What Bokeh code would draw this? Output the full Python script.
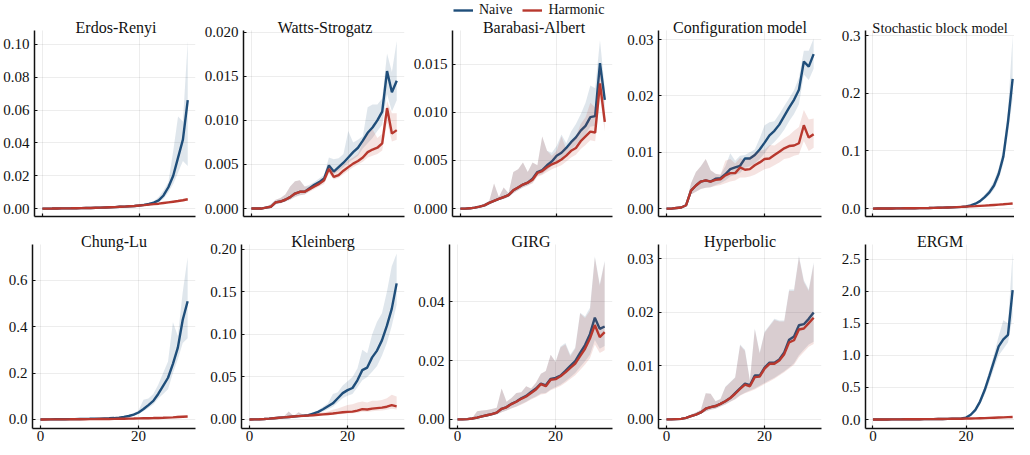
from bokeh.plotting import figure
from bokeh.layouts import row, column
from bokeh.models import (FixedTicker, PrintfTickFormatter, Range1d, Legend, LegendItem,
                          Label, CustomLabelingPolicy)
from bokeh.embed import file_html
from bokeh.resources import INLINE

steps = list(range(31))
legend_labels = ["Naive", "Harmonic"]
x_ticks = [0, 20]

# ---------------- Erdos-Renyi ----------------
er_naive = [0.0, 0.00002, 0.00005, 0.0001, 0.00013, 0.00017, 0.0002, 0.00025, 0.0003, 0.00035, 0.0004, 0.0005, 0.0006, 0.0007, 0.0008, 0.0009, 0.0011, 0.0012, 0.0014, 0.0016, 0.0019, 0.0023, 0.0028, 0.0036, 0.005, 0.008, 0.013, 0.020, 0.031, 0.042, 0.066]
er_naive_lo = [0.0, 0.00001, 0.00004, 0.00008, 0.0001, 0.00014, 0.00017, 0.0002, 0.00025, 0.0003, 0.00034, 0.00042, 0.0005, 0.0006, 0.0007, 0.0008, 0.0009, 0.001, 0.0012, 0.0014, 0.0016, 0.0019, 0.0023, 0.003, 0.004, 0.006, 0.010, 0.015, 0.022, 0.029, 0.026]
er_naive_hi = [0.0, 0.00003, 0.00007, 0.00012, 0.00016, 0.0002, 0.00024, 0.0003, 0.00036, 0.00042, 0.0005, 0.0006, 0.0007, 0.0008, 0.001, 0.0013, 0.0022, 0.0016, 0.0017, 0.0019, 0.0026, 0.0034, 0.0035, 0.0045, 0.007, 0.011, 0.016, 0.035, 0.056, 0.053, 0.102]
er_harm = [0.0, 0.00002, 0.00005, 0.0001, 0.00013, 0.00017, 0.0002, 0.00025, 0.0003, 0.00035, 0.0004, 0.0005, 0.0006, 0.0007, 0.0008, 0.0009, 0.0011, 0.0012, 0.0014, 0.0016, 0.0019, 0.0021, 0.0024, 0.0027, 0.003, 0.0034, 0.0038, 0.0042, 0.0046, 0.0051, 0.0057]
er_harm_lo = [0.0, 0.00001, 0.00004, 0.00008, 0.00011, 0.00014, 0.00017, 0.0002, 0.00025, 0.0003, 0.00034, 0.00042, 0.0005, 0.0006, 0.0007, 0.0008, 0.0009, 0.001, 0.0012, 0.0014, 0.0016, 0.0018, 0.002, 0.0023, 0.0026, 0.0029, 0.0033, 0.0036, 0.004, 0.0044, 0.0049]
er_harm_hi = [0.0, 0.00003, 0.00006, 0.00012, 0.00015, 0.0002, 0.00023, 0.0003, 0.00035, 0.0004, 0.00046, 0.00058, 0.0007, 0.0008, 0.0009, 0.0011, 0.0018, 0.0014, 0.0016, 0.0018, 0.0023, 0.0026, 0.0028, 0.0031, 0.0035, 0.0039, 0.0043, 0.0048, 0.0052, 0.0058, 0.0065]

# ---------------- Watts-Strogatz ----------------
ws_naive = [0.0, 0.0, 0.0, 0.0001, 0.0002, 0.0007, 0.0008, 0.001, 0.0013, 0.0017, 0.0019, 0.0019, 0.0023, 0.0027, 0.003, 0.0034, 0.0049, 0.0042, 0.0047, 0.0052, 0.0058, 0.0064, 0.0069, 0.0077, 0.0086, 0.0092, 0.0100, 0.0110, 0.0156, 0.0132, 0.0145]
ws_naive_lo = [0.0, 0.0, 0.0, 0.00005, 0.0001, 0.0005, 0.0006, 0.0008, 0.001, 0.0013, 0.0015, 0.0016, 0.002, 0.0024, 0.0027, 0.003, 0.0042, 0.0039, 0.0043, 0.0047, 0.0052, 0.0056, 0.006, 0.0068, 0.0074, 0.008, 0.0088, 0.0095, 0.013, 0.011, 0.0123]
ws_naive_hi = [0.0, 0.0, 0.0, 0.0002, 0.0005, 0.001, 0.0012, 0.0016, 0.0025, 0.0031, 0.0032, 0.0025, 0.0027, 0.003, 0.0034, 0.0038, 0.0058, 0.0056, 0.0057, 0.0062, 0.0088, 0.0075, 0.0078, 0.0082, 0.0115, 0.0118, 0.0118, 0.0125, 0.0176, 0.0155, 0.019]
ws_harm = [0.0, 0.0, 0.0, 0.0001, 0.0002, 0.0007, 0.0008, 0.001, 0.0013, 0.0017, 0.0019, 0.0019, 0.0022, 0.0025, 0.0028, 0.0032, 0.0045, 0.0036, 0.0038, 0.0043, 0.0047, 0.0051, 0.0054, 0.0058, 0.0064, 0.0067, 0.0069, 0.0074, 0.0114, 0.0085, 0.0089]
ws_harm_lo = [0.0, 0.0, 0.0, 0.00005, 0.0001, 0.0005, 0.0006, 0.0008, 0.001, 0.0013, 0.0015, 0.0016, 0.0019, 0.0022, 0.0025, 0.0028, 0.004, 0.0033, 0.0035, 0.0039, 0.0043, 0.0047, 0.005, 0.0053, 0.0058, 0.006, 0.0062, 0.0066, 0.0098, 0.0076, 0.0078]
ws_harm_hi = [0.0, 0.0, 0.0, 0.0002, 0.0005, 0.001, 0.0012, 0.0016, 0.0025, 0.0031, 0.0032, 0.0025, 0.0025, 0.0028, 0.0031, 0.0036, 0.005, 0.0042, 0.0045, 0.005, 0.0055, 0.0058, 0.0062, 0.0075, 0.0085, 0.009, 0.008, 0.0085, 0.0122, 0.0108, 0.0108]

# ---------------- Barabasi-Albert ----------------
ba_naive = [0.0, 0.0, 0.00003, 0.0001, 0.0002, 0.00034, 0.0006, 0.0008, 0.001, 0.0012, 0.0014, 0.0019, 0.0022, 0.0025, 0.0027, 0.0031, 0.0038, 0.004, 0.0045, 0.0049, 0.0055, 0.0058, 0.0063, 0.0069, 0.0074, 0.0081, 0.0086, 0.0095, 0.0096, 0.0151, 0.0113]
ba_naive_lo = [0.0, 0.0, 0.00002, 0.00008, 0.00016, 0.0003, 0.0005, 0.0007, 0.0009, 0.001, 0.0012, 0.0016, 0.0019, 0.0022, 0.0024, 0.0027, 0.0034, 0.0036, 0.004, 0.0044, 0.005, 0.0052, 0.0057, 0.0062, 0.0066, 0.0072, 0.0077, 0.0085, 0.0086, 0.0135, 0.0102]
ba_naive_hi = [0.0, 0.0, 0.00005, 0.00013, 0.0003, 0.0005, 0.0008, 0.0026, 0.0012, 0.0022, 0.0016, 0.0038, 0.0041, 0.0048, 0.0038, 0.0048, 0.0045, 0.0075, 0.006, 0.0058, 0.0065, 0.0077, 0.0068, 0.008, 0.0088, 0.0098, 0.011, 0.0128, 0.0125, 0.0175, 0.0125]
ba_harm = [0.0, 0.0, 0.00003, 0.0001, 0.0002, 0.00034, 0.0006, 0.0008, 0.001, 0.0012, 0.0014, 0.0019, 0.0022, 0.0025, 0.0027, 0.003, 0.0037, 0.0039, 0.0043, 0.0046, 0.0048, 0.0051, 0.0055, 0.006, 0.0063, 0.007, 0.0075, 0.008, 0.0079, 0.013, 0.009]
ba_harm_lo = [0.0, 0.0, 0.00002, 0.00008, 0.00016, 0.0003, 0.0005, 0.0007, 0.0009, 0.001, 0.0012, 0.0016, 0.0019, 0.0022, 0.0024, 0.0026, 0.0033, 0.0035, 0.0038, 0.0041, 0.0043, 0.0045, 0.0049, 0.0053, 0.0056, 0.0062, 0.0066, 0.0071, 0.007, 0.0115, 0.008]
ba_harm_hi = [0.0, 0.0, 0.00005, 0.00013, 0.0003, 0.0005, 0.0008, 0.0026, 0.0012, 0.0022, 0.0016, 0.0038, 0.0041, 0.0048, 0.0038, 0.0048, 0.0045, 0.0075, 0.006, 0.0055, 0.006, 0.0075, 0.0062, 0.007, 0.0075, 0.0088, 0.0095, 0.011, 0.0105, 0.0148, 0.01]

# ---------------- Configuration model ----------------
cm_naive = [0.0, 0.0, 0.0001, 0.0002, 0.0006, 0.0032, 0.0041, 0.0048, 0.005, 0.0048, 0.0053, 0.0054, 0.0061, 0.007, 0.0073, 0.0076, 0.0089, 0.0089, 0.0095, 0.0105, 0.0117, 0.013, 0.0138, 0.0149, 0.0164, 0.0179, 0.0193, 0.0211, 0.0261, 0.0252, 0.0274]
cm_naive_lo = [0.0, 0.0, 0.00005, 0.0001, 0.0004, 0.0025, 0.003, 0.0035, 0.0037, 0.0038, 0.0042, 0.0045, 0.005, 0.0057, 0.006, 0.0063, 0.0073, 0.0075, 0.008, 0.0088, 0.0098, 0.011, 0.0118, 0.0128, 0.014, 0.0155, 0.0168, 0.0185, 0.0238, 0.0228, 0.0248]
cm_naive_hi = [0.0, 0.0, 0.00015, 0.0003, 0.0008, 0.0045, 0.0065, 0.0075, 0.0088, 0.0068, 0.0062, 0.006, 0.0075, 0.0098, 0.0085, 0.0094, 0.0095, 0.01, 0.0105, 0.0125, 0.0148, 0.0153, 0.0155, 0.0168, 0.0182, 0.0196, 0.021, 0.0232, 0.028, 0.028, 0.0302]
cm_harm = [0.0, 0.0, 0.0001, 0.0002, 0.0006, 0.0032, 0.0041, 0.0048, 0.005, 0.0048, 0.0051, 0.0052, 0.0059, 0.0063, 0.0063, 0.0073, 0.0069, 0.007, 0.0077, 0.0082, 0.0088, 0.0089, 0.0095, 0.0101, 0.0107, 0.0111, 0.0112, 0.0116, 0.0148, 0.0126, 0.0132]
cm_harm_lo = [0.0, 0.0, 0.00005, 0.0001, 0.0004, 0.0025, 0.003, 0.0035, 0.0037, 0.0038, 0.004, 0.0042, 0.0045, 0.0048, 0.005, 0.0055, 0.0055, 0.0057, 0.006, 0.0065, 0.007, 0.0072, 0.0077, 0.0082, 0.0088, 0.009, 0.0094, 0.0096, 0.012, 0.0102, 0.0108]
cm_harm_hi = [0.0, 0.0, 0.00015, 0.0003, 0.0008, 0.0045, 0.0065, 0.0075, 0.0088, 0.0068, 0.0062, 0.006, 0.0085, 0.0088, 0.008, 0.009, 0.0085, 0.0092, 0.0098, 0.0102, 0.0105, 0.0113, 0.0112, 0.0118, 0.0125, 0.013, 0.0138, 0.0145, 0.0175, 0.0158, 0.016]

# ---------------- Stochastic block model ----------------
sbm_naive = [0.0, 0.00005, 0.0001, 0.00015, 0.0002, 0.0003, 0.0004, 0.0005, 0.0006, 0.0007, 0.0008, 0.0009, 0.001, 0.0012, 0.0014, 0.0016, 0.0019, 0.0022, 0.0026, 0.003, 0.0037, 0.0055, 0.0085, 0.013, 0.02, 0.028, 0.04, 0.06, 0.09, 0.15, 0.225]
sbm_naive_lo = [0.0, 0.00003, 0.00007, 0.0001, 0.00015, 0.0002, 0.0003, 0.0004, 0.0005, 0.0006, 0.0007, 0.0008, 0.0009, 0.001, 0.0012, 0.0014, 0.0016, 0.0019, 0.0022, 0.0026, 0.0032, 0.0045, 0.007, 0.0105, 0.016, 0.023, 0.033, 0.05, 0.078, 0.13, 0.19]
sbm_naive_hi = [0.0, 0.00007, 0.00013, 0.0002, 0.00025, 0.0004, 0.0005, 0.0006, 0.0007, 0.0008, 0.0009, 0.001, 0.0012, 0.0014, 0.0016, 0.0018, 0.0022, 0.0025, 0.003, 0.0035, 0.0043, 0.0065, 0.01, 0.016, 0.024, 0.034, 0.048, 0.07, 0.105, 0.17, 0.30]
sbm_harm = [0.0, 0.00005, 0.0001, 0.00015, 0.0002, 0.0003, 0.0004, 0.0005, 0.0006, 0.0007, 0.0008, 0.0009, 0.001, 0.0012, 0.0014, 0.0016, 0.0019, 0.0022, 0.0026, 0.003, 0.0034, 0.0038, 0.0042, 0.0047, 0.0052, 0.0057, 0.0063, 0.0069, 0.0075, 0.0082, 0.0089]
sbm_harm_lo = [0.0, 0.00004, 0.00009, 0.00013, 0.00018, 0.00027, 0.00036, 0.00045, 0.00054, 0.00063, 0.00072, 0.0008, 0.0009, 0.0011, 0.0013, 0.0014, 0.0017, 0.002, 0.0023, 0.0027, 0.003, 0.0034, 0.0038, 0.0042, 0.0047, 0.0051, 0.0057, 0.0062, 0.0068, 0.0074, 0.008]
sbm_harm_hi = [0.0, 0.00006, 0.00011, 0.00017, 0.00022, 0.00033, 0.00044, 0.00055, 0.00066, 0.00077, 0.00088, 0.001, 0.0011, 0.0013, 0.0015, 0.0018, 0.0021, 0.0024, 0.0029, 0.0033, 0.0037, 0.0042, 0.0046, 0.0052, 0.0057, 0.0063, 0.0069, 0.0076, 0.0083, 0.009, 0.0098]

# ---------------- Chung-Lu ----------------
cl_naive = [0.0, 0.0002, 0.0004, 0.0006, 0.0008, 0.001, 0.0013, 0.0016, 0.002, 0.0024, 0.0028, 0.0033, 0.0038, 0.0044, 0.005, 0.006, 0.008, 0.011, 0.015, 0.021, 0.03, 0.045, 0.062, 0.08, 0.11, 0.145, 0.18, 0.24, 0.31, 0.43, 0.51]
cl_naive_lo = [0.0, 0.0001, 0.0003, 0.0005, 0.0006, 0.0008, 0.001, 0.0013, 0.0016, 0.002, 0.0023, 0.0027, 0.0031, 0.0036, 0.0041, 0.005, 0.0065, 0.009, 0.012, 0.017, 0.025, 0.035, 0.05, 0.065, 0.09, 0.11, 0.13, 0.2, 0.26, 0.33, 0.35]
cl_naive_hi = [0.0, 0.0003, 0.0005, 0.0007, 0.001, 0.0012, 0.0016, 0.002, 0.0024, 0.0029, 0.0034, 0.004, 0.0046, 0.0053, 0.006, 0.0072, 0.0098, 0.0135, 0.019, 0.027, 0.04, 0.085, 0.09, 0.11, 0.15, 0.2, 0.25, 0.42, 0.36, 0.55, 0.70]
cl_harm = [0.0, 0.0001, 0.0002, 0.0003, 0.0004, 0.0005, 0.0006, 0.0008, 0.001, 0.0012, 0.0014, 0.0016, 0.0018, 0.002, 0.0023, 0.0026, 0.0029, 0.0032, 0.0036, 0.004, 0.0045, 0.005, 0.0055, 0.006, 0.0066, 0.0072, 0.008, 0.0088, 0.0105, 0.0118, 0.013]
cl_harm_lo = [0.0, 0.00008, 0.00017, 0.00025, 0.00034, 0.0004, 0.0005, 0.0007, 0.0008, 0.001, 0.0012, 0.0014, 0.0015, 0.0017, 0.002, 0.0022, 0.0025, 0.0027, 0.003, 0.0034, 0.0038, 0.0042, 0.0047, 0.0051, 0.0056, 0.0061, 0.0068, 0.0075, 0.0089, 0.01, 0.011]
cl_harm_hi = [0.0, 0.00012, 0.00023, 0.00035, 0.00046, 0.0006, 0.0007, 0.0009, 0.0012, 0.0014, 0.0016, 0.0018, 0.0021, 0.0023, 0.0026, 0.003, 0.0033, 0.0037, 0.0041, 0.0046, 0.0052, 0.0058, 0.0063, 0.0069, 0.0076, 0.0083, 0.0092, 0.0101, 0.017, 0.017, 0.016]

# ---------------- Kleinberg ----------------
kl_naive = [0.0, 0.0001, 0.0003, 0.0006, 0.001, 0.0015, 0.002, 0.0025, 0.003, 0.0035, 0.004, 0.0045, 0.005, 0.007, 0.009, 0.012, 0.0155, 0.019, 0.025, 0.031, 0.0345, 0.037, 0.046, 0.058, 0.061, 0.073, 0.081, 0.093, 0.11, 0.13, 0.16]
kl_naive_lo = [0.0, 0.00008, 0.0002, 0.0005, 0.0008, 0.0012, 0.0016, 0.002, 0.0024, 0.0028, 0.0032, 0.0036, 0.004, 0.0055, 0.0072, 0.0095, 0.012, 0.015, 0.02, 0.025, 0.028, 0.03, 0.038, 0.046, 0.05, 0.056, 0.063, 0.075, 0.09, 0.11, 0.135]
kl_naive_hi = [0.0, 0.00015, 0.0004, 0.0008, 0.0013, 0.002, 0.0028, 0.0035, 0.0095, 0.004, 0.0085, 0.0055, 0.0065, 0.0085, 0.011, 0.015, 0.019, 0.03, 0.032, 0.04, 0.045, 0.05, 0.06, 0.082, 0.078, 0.1, 0.115, 0.125, 0.15, 0.18, 0.195]
kl_harm = [0.0, 0.0001, 0.0003, 0.0006, 0.001, 0.0015, 0.002, 0.0025, 0.003, 0.0035, 0.004, 0.0043, 0.0046, 0.005, 0.0055, 0.006, 0.0065, 0.007, 0.0078, 0.0085, 0.009, 0.0092, 0.0105, 0.0122, 0.0118, 0.0128, 0.0134, 0.014, 0.015, 0.0168, 0.0155]
kl_harm_lo = [0.0, 0.00008, 0.0002, 0.0005, 0.0008, 0.0012, 0.0016, 0.002, 0.0024, 0.0028, 0.0032, 0.0034, 0.0037, 0.004, 0.0044, 0.0048, 0.0052, 0.0055, 0.006, 0.0065, 0.007, 0.0072, 0.008, 0.009, 0.009, 0.0097, 0.0102, 0.0107, 0.0113, 0.0125, 0.0118]
kl_harm_hi = [0.0, 0.00015, 0.0004, 0.0008, 0.0013, 0.002, 0.0028, 0.0035, 0.0095, 0.004, 0.0085, 0.0055, 0.006, 0.0068, 0.0075, 0.0085, 0.0095, 0.0115, 0.013, 0.015, 0.017, 0.018, 0.02, 0.021, 0.02, 0.022, 0.022, 0.023, 0.025, 0.029, 0.027]

# ---------------- GIRG ----------------
gi_naive = [0.0, 0.0, 0.0001, 0.0003, 0.0006, 0.001, 0.0014, 0.0018, 0.0023, 0.0036, 0.0042, 0.0053, 0.0061, 0.0072, 0.008, 0.0093, 0.0105, 0.0122, 0.0116, 0.0138, 0.0141, 0.0149, 0.0165, 0.0182, 0.0198, 0.0226, 0.0253, 0.029, 0.0346, 0.0308, 0.0316]
gi_naive_lo = [0.0, 0.0, 0.00005, 0.0002, 0.0004, 0.0007, 0.001, 0.0013, 0.0017, 0.0024, 0.003, 0.0038, 0.0044, 0.0052, 0.006, 0.007, 0.0078, 0.0088, 0.009, 0.0102, 0.011, 0.0118, 0.013, 0.0143, 0.0158, 0.0178, 0.0198, 0.022, 0.027, 0.024, 0.025]
gi_naive_hi = [0.0, 0.0, 0.0002, 0.0005, 0.0028, 0.003, 0.0032, 0.0035, 0.004, 0.0105, 0.006, 0.0073, 0.009, 0.0092, 0.0113, 0.0105, 0.0125, 0.0155, 0.0165, 0.022, 0.0195, 0.0248, 0.026, 0.022, 0.0245, 0.0363, 0.035, 0.038, 0.0555, 0.046, 0.054]
gi_harm = [0.0, 0.0, 0.0001, 0.0003, 0.0006, 0.001, 0.0014, 0.0018, 0.0023, 0.0036, 0.0041, 0.0052, 0.006, 0.007, 0.0078, 0.009, 0.0102, 0.012, 0.0113, 0.0135, 0.0137, 0.0147, 0.016, 0.0175, 0.019, 0.0215, 0.024, 0.0275, 0.0321, 0.028, 0.0297]
gi_harm_lo = [0.0, 0.0, 0.00005, 0.0002, 0.0004, 0.0007, 0.001, 0.0013, 0.0017, 0.0024, 0.003, 0.0037, 0.0043, 0.005, 0.0058, 0.0068, 0.0075, 0.0085, 0.0087, 0.0099, 0.0106, 0.0114, 0.0125, 0.0137, 0.015, 0.0168, 0.0187, 0.0208, 0.0255, 0.0226, 0.0235]
gi_harm_hi = [0.0, 0.0, 0.0002, 0.0005, 0.0028, 0.003, 0.0032, 0.0035, 0.004, 0.0105, 0.006, 0.0073, 0.009, 0.0092, 0.0113, 0.0105, 0.0125, 0.0155, 0.0165, 0.022, 0.0195, 0.0245, 0.0255, 0.0215, 0.024, 0.036, 0.0345, 0.037, 0.055, 0.0455, 0.0535]

# ---------------- Hyperbolic ----------------
hy_naive = [0.0, 0.0, 0.00005, 0.0001, 0.0003, 0.0006, 0.0009, 0.0013, 0.002, 0.0023, 0.0025, 0.0029, 0.0034, 0.004, 0.0049, 0.0058, 0.0067, 0.0064, 0.0082, 0.0082, 0.0097, 0.0106, 0.0106, 0.0112, 0.0125, 0.0149, 0.0155, 0.0176, 0.0178, 0.0188, 0.02]
hy_naive_lo = [0.0, 0.0, 0.00003, 0.00008, 0.0002, 0.0005, 0.0008, 0.0011, 0.0015, 0.0018, 0.002, 0.0024, 0.0028, 0.0033, 0.0038, 0.0045, 0.005, 0.0054, 0.0058, 0.0063, 0.0068, 0.0073, 0.0078, 0.0084, 0.009, 0.0097, 0.0105, 0.012, 0.013, 0.014, 0.0145]
hy_naive_hi = [0.0, 0.0, 0.0001, 0.0002, 0.0005, 0.0009, 0.0013, 0.0018, 0.0049, 0.0048, 0.0034, 0.0038, 0.0061, 0.007, 0.0079, 0.014, 0.013, 0.0073, 0.017, 0.0125, 0.0164, 0.0176, 0.0188, 0.0185, 0.0185, 0.0243, 0.0243, 0.0306, 0.026, 0.0243, 0.0294]
hy_harm = [0.0, 0.0, 0.00005, 0.0001, 0.0003, 0.0006, 0.0009, 0.0013, 0.002, 0.0023, 0.0025, 0.0029, 0.0034, 0.004, 0.0048, 0.0057, 0.0065, 0.0062, 0.0079, 0.008, 0.0095, 0.0104, 0.0104, 0.011, 0.0122, 0.0144, 0.0148, 0.0168, 0.017, 0.018, 0.019]
hy_harm_lo = [0.0, 0.0, 0.00003, 0.00008, 0.0002, 0.0005, 0.0008, 0.0011, 0.0015, 0.0018, 0.002, 0.0024, 0.0028, 0.0033, 0.0037, 0.0044, 0.0049, 0.0052, 0.0056, 0.0061, 0.0066, 0.0071, 0.0076, 0.0082, 0.0088, 0.0095, 0.0102, 0.0116, 0.0126, 0.0136, 0.0141]
hy_harm_hi = [0.0, 0.0, 0.0001, 0.0002, 0.0005, 0.0009, 0.0013, 0.0018, 0.0049, 0.0048, 0.0034, 0.0038, 0.006, 0.0069, 0.0078, 0.0138, 0.0128, 0.0072, 0.0168, 0.0123, 0.0162, 0.0174, 0.0186, 0.0183, 0.0183, 0.024, 0.024, 0.0303, 0.0257, 0.024, 0.029]

# ---------------- ERGM ----------------
eg_naive = [0.0, 0.0005, 0.001, 0.0015, 0.002, 0.0025, 0.003, 0.0035, 0.004, 0.0045, 0.005, 0.0055, 0.006, 0.007, 0.008, 0.009, 0.01, 0.012, 0.014, 0.018, 0.03, 0.075, 0.15, 0.28, 0.46, 0.68, 0.91, 1.14, 1.25, 1.32, 2.02]
eg_naive_lo = [0.0, 0.0004, 0.0008, 0.0012, 0.0016, 0.002, 0.0024, 0.0028, 0.0032, 0.0036, 0.004, 0.0044, 0.0048, 0.0056, 0.0064, 0.0072, 0.008, 0.0096, 0.011, 0.014, 0.025, 0.06, 0.12, 0.23, 0.39, 0.58, 0.8, 1.0, 1.1, 1.2, 1.6]
eg_naive_hi = [0.0, 0.0006, 0.0012, 0.0018, 0.0024, 0.003, 0.0036, 0.0042, 0.0048, 0.0054, 0.006, 0.0066, 0.0072, 0.0084, 0.0096, 0.011, 0.012, 0.0145, 0.017, 0.022, 0.036, 0.085, 0.17, 0.32, 0.52, 0.76, 1.02, 1.3, 1.55, 1.5, 2.6]
eg_harm = [0.0, 0.0005, 0.001, 0.0015, 0.002, 0.0025, 0.003, 0.0035, 0.004, 0.0045, 0.005, 0.0055, 0.006, 0.007, 0.008, 0.009, 0.01, 0.011, 0.012, 0.013, 0.015, 0.016, 0.018, 0.02, 0.022, 0.025, 0.028, 0.031, 0.034, 0.037, 0.04]
eg_harm_lo = [0.0, 0.0004, 0.0009, 0.0013, 0.0018, 0.0022, 0.0027, 0.0031, 0.0036, 0.004, 0.0045, 0.005, 0.0054, 0.0063, 0.0072, 0.0081, 0.009, 0.0099, 0.0108, 0.0117, 0.0135, 0.0144, 0.0162, 0.018, 0.0198, 0.0225, 0.0252, 0.0279, 0.0306, 0.0333, 0.036]
eg_harm_hi = [0.0, 0.0006, 0.0011, 0.0017, 0.0022, 0.0028, 0.0033, 0.0039, 0.0044, 0.005, 0.0055, 0.0061, 0.0066, 0.0077, 0.0088, 0.0099, 0.011, 0.0121, 0.0132, 0.0143, 0.0165, 0.0176, 0.0198, 0.022, 0.0242, 0.0275, 0.0308, 0.0341, 0.0374, 0.0407, 0.044]

titles = ["Erdos-Renyi", "Watts-Strogatz", "Barabasi-Albert", "Configuration model", "Stochastic block model",
          "Chung-Lu", "Kleinberg", "GIRG", "Hyperbolic", "ERGM"]

series = [
    (er_naive, er_naive_lo, er_naive_hi, er_harm, er_harm_lo, er_harm_hi),
    (ws_naive, ws_naive_lo, ws_naive_hi, ws_harm, ws_harm_lo, ws_harm_hi),
    (ba_naive, ba_naive_lo, ba_naive_hi, ba_harm, ba_harm_lo, ba_harm_hi),
    (cm_naive, cm_naive_lo, cm_naive_hi, cm_harm, cm_harm_lo, cm_harm_hi),
    (sbm_naive, sbm_naive_lo, sbm_naive_hi, sbm_harm, sbm_harm_lo, sbm_harm_hi),
    (cl_naive, cl_naive_lo, cl_naive_hi, cl_harm, cl_harm_lo, cl_harm_hi),
    (kl_naive, kl_naive_lo, kl_naive_hi, kl_harm, kl_harm_lo, kl_harm_hi),
    (gi_naive, gi_naive_lo, gi_naive_hi, gi_harm, gi_harm_lo, gi_harm_hi),
    (hy_naive, hy_naive_lo, hy_naive_hi, hy_harm, hy_harm_lo, hy_harm_hi),
    (eg_naive, eg_naive_lo, eg_naive_hi, eg_harm, eg_harm_lo, eg_harm_hi),
]

y_ticks = [
    [0.0, 0.02, 0.04, 0.06, 0.08, 0.10],
    [0.0, 0.005, 0.010, 0.015, 0.020],
    [0.0, 0.005, 0.010, 0.015],
    [0.0, 0.01, 0.02, 0.03],
    [0.0, 0.1, 0.2, 0.3],
    [0.0, 0.2, 0.4, 0.6],
    [0.0, 0.05, 0.10, 0.15, 0.20],
    [0.0, 0.02, 0.04],
    [0.0, 0.01, 0.02, 0.03],
    [0.0, 0.5, 1.0, 1.5, 2.0, 2.5],
]
y_formats = ["%.2f", "%.3f", "%.3f", "%.2f", "%.1f", "%.1f", "%.2f", "%.2f", "%.2f", "%.1f"]
y_limits = [(-0.0048, 0.1084), (-0.0009, 0.0202), (-0.00082, 0.0185), (-0.0014, 0.0316), (-0.0137, 0.3087),
            (-0.039, 0.755), (-0.0106, 0.2057), (-0.0031, 0.0595), (-0.0017, 0.0327), (-0.14, 2.73)]

FONT = "Times"
BLUE = "#1f4e7a"
RED = "#b8382e"

col_w = [201, 209, 208, 209, 187]
col_bl = [32, 40, 39, 40, 38]
col_br = [6, 6, 6, 6, 0]
x_limits = [(-1.63, 31.6)] * 4 + [(-1.6, 30.4)]
row_h = [224, 223]
row_bb = [8, 19]
row_head = [30, 20]   # space above the data area (inside the frame) for titles / legend
title_sizes = ["16px"] * 4 + ["14.5px"] + ["16px"] * 5

figs = []
legend_refs = None
for i in range(10):
    r, c = divmod(i, 5)
    naive, nlo, nhi, harm, hlo, hhi = series[i]
    y0, y1 = y_limits[i]
    frame_h = row_h[r] - row_bb[r]
    data_h = frame_h - row_head[r]
    y1_ext = y0 + (y1 - y0) * frame_h / data_h
    fw = col_w[c] - col_bl[c] - col_br[c]

    p = figure(width=col_w[c], height=row_h[r],
               x_range=Range1d(*x_limits[c]), y_range=Range1d(y0, y1_ext),
               output_backend="svg", toolbar_location=None,
               min_border_left=col_bl[c], min_border_right=col_br[c],
               min_border_top=0, min_border_bottom=row_bb[r])
    p.title.visible = False
    p.outline_line_color = None
    p.background_fill_color = "white"
    p.border_fill_color = "white"

    p.varea(x=steps, y1=nlo, y2=nhi, fill_color=BLUE, fill_alpha=0.14)
    ln = p.line(steps, naive, line_color=BLUE, line_width=2.4)
    p.varea(x=steps, y1=hlo, y2=hhi, fill_color=RED, fill_alpha=0.14)
    lh = p.line(steps, harm, line_color=RED, line_width=2.4)
    if i == 2:
        legend_refs = (p, ln, lh, frame_h)

    p.add_layout(Label(x=fw / 2, y=data_h + 3,
                       x_units="screen", y_units="screen",
                       text=titles[i], text_align="center", text_baseline="alphabetic",
                       text_font=FONT, text_font_size=title_sizes[i], text_color="#111111"))

    p.xaxis.ticker = FixedTicker(ticks=x_ticks)
    p.yaxis.ticker = FixedTicker(ticks=y_ticks[i])
    p.yaxis.formatter = PrintfTickFormatter(format=y_formats[i])
    p.yaxis.bounds = (y0, y1)
    for ax in (p.xaxis[0], p.yaxis[0]):
        ax.axis_line_color = "#111111"
        ax.axis_line_width = 1.5
        ax.major_tick_line_color = "#111111"
        ax.major_tick_line_width = 1.2
        ax.major_tick_in = 3
        ax.major_tick_out = 0
        ax.minor_tick_line_color = None
        ax.major_label_text_font = FONT
        ax.major_label_text_font_size = "15px"
        ax.major_label_text_color = "#111111"
    p.yaxis.major_label_standoff = 5
    if r == 0:
        p.xaxis.major_label_policy = CustomLabelingPolicy(
            code="for (const i of indices) indices.unset(i); return indices")
        p.xaxis.major_label_text_font_size = "6px"
        p.xaxis.major_label_standoff = 0
    else:
        p.xaxis.major_label_standoff = 2
    p.grid.grid_line_color = "#000000"
    p.grid.grid_line_alpha = 0.07
    p.grid.grid_line_width = 1
    p.xgrid.cross_bounds = (y0, y1)
    figs.append(p)

p3, ln, lh, fh3 = legend_refs
legend = Legend(items=[LegendItem(label=legend_labels[0], renderers=[ln]),
                       LegendItem(label=legend_labels[1], renderers=[lh])],
                location=(1, fh3 - 18), orientation="horizontal",
                background_fill_alpha=0, border_line_color=None,
                label_text_font=FONT, label_text_font_size="14px",
                label_text_color="#111111",
                glyph_width=20, glyph_height=14, label_height=14,
                label_standoff=6, spacing=10, padding=0, margin=0)
p3.add_layout(legend)

layout = column(row(*figs[:5]), row(*figs[5:]))

open("out.html", "w").write(file_html(layout, INLINE))
